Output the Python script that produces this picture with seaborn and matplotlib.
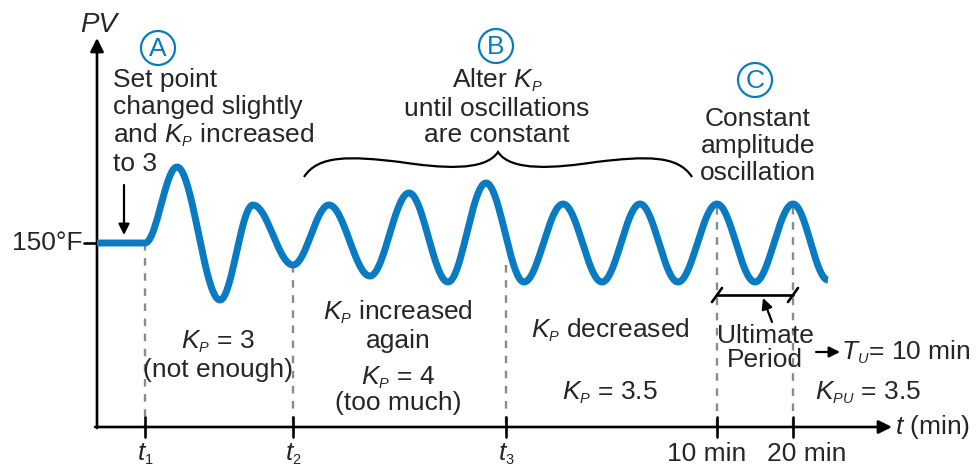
"""Ziegler-Nichols closed-loop tuning sketch: PV response while K_P is stepped."""

import matplotlib

matplotlib.use("Agg")
import matplotlib._mathtext as _mt  # noqa: E402
import matplotlib.pyplot as plt  # noqa: E402
import numpy as np  # noqa: E402
import pandas as pd  # noqa: E402
import seaborn as sns  # noqa: E402
from matplotlib.patches import Circle, PathPatch  # noqa: E402
from matplotlib.path import Path  # noqa: E402

_mt.SHRINK_FACTOR = 0.55  # small subscripts as in the original drawing

BLUE = "#0a7bc1"
GREY = "#8a8a8a"

# PV trace: turning points of the response (time units, PV units; setpoint = 223)
EXT_T = [97, 145, 177, 220, 253, 293, 329, 370, 409, 448, 486, 524, 563, 602,
         640, 678, 717, 755, 793, 828]
EXT_PV = [223, 223, 299, 166, 261, 201, 261, 190, 273, 184, 283, 184, 262, 184,
          262, 184, 262, 184, 262, 186]

SETPOINT = 223
TICK_T = [145, 293, 506, 717, 793]
TICK_LABELS = ["$t_1$", "$t_2$", "$t_3$", "10 min", "20 min"]
LABEL_SHIFT = [0, 0, 0, -10, 14]       # the minute labels sit off-centre
DASH_FROM = [223, 201, 201, 259, 259]   # dashed guide starts on the curve


def wave(ts, vs, n=40):
    """Half-cosine segments between consecutive turning points."""
    xs, ys = [ts[0]], [vs[0]]
    for (t0, v0), (t1, v1) in zip(zip(ts[:-1], vs[:-1]), zip(ts[1:], vs[1:])):
        s = np.linspace(0, 1, n)[1:]
        if v0 == v1:
            xs += list(t0 + (t1 - t0) * s); ys += [v0] * len(s)
        else:
            xs += list(t0 + (t1 - t0) * s)
            ys += list(v0 + (v1 - v0) * (1 - np.cos(np.pi * s)) / 2)
    return pd.DataFrame({"t": xs, "pv": ys})


sns.set_style("white")
plt.rcParams["font.family"] = ["Liberation Sans", "DejaVu Sans"]
plt.rcParams["mathtext.fontset"] = "custom"
plt.rcParams["mathtext.rm"] = "Liberation Sans"
plt.rcParams["mathtext.it"] = "Liberation Sans:italic"

fig = plt.figure(figsize=(9.78, 4.66), dpi=100)
ax = fig.add_axes([0, 0, 1, 1])

FS = 19
LS = 1.15
arrow = dict(arrowstyle="-|>", color="black", shrinkA=0, shrinkB=0)

# axes with arrow heads
ax.annotate("", xy=(892, 39), xytext=(95, 39),
            arrowprops=dict(arrow, lw=1.9, mutation_scale=20))
ax.annotate("", xy=(97, 428), xytext=(97, 38),
            arrowprops=dict(arrow, lw=1.9, mutation_scale=20))
ax.text(99, 441, "PV", fontsize=FS + 1, style="italic", ha="center", va="center")
ax.text(895, 39, "$t$ (min)", fontsize=FS, ha="left", va="center")

# setpoint tick
ax.plot([84, 108], [SETPOINT, SETPOINT], color="black", lw=1.9)
ax.text(83, SETPOINT, "150°F", fontsize=FS, ha="right", va="center")

# dashed guides and x ticks
for t, y0, lab, dx in zip(TICK_T, DASH_FROM, TICK_LABELS, LABEL_SHIFT):
    ax.plot([t, t], [y0, 39], color=GREY, lw=1.7, linestyle=(0, (3.2, 3.2)), zorder=1)
    ax.plot([t, t], [29, 49], color="black", lw=1.9)
    ax.text(t + dx, 24, lab, fontsize=FS, ha="center", va="top")

# response curve
df = wave(EXT_T, EXT_PV)
sns.lineplot(data=df, x="t", y="pv", sort=False, estimator=None, color=BLUE,
             linewidth=5, ax=ax, zorder=3)
ax.lines[-1].set_solid_capstyle("butt")
ax.set_xlim(0, 978); ax.set_ylim(0, 466); ax.axis("off")

# circled step letters
for (cx, cy), letter in zip([(158, 418), (496, 420), (755, 386)], "ABC"):
    ax.add_patch(Circle((cx, cy), 17, fill=False, ec=BLUE, lw=1.6))
    ax.text(cx, cy - 1, letter, color=BLUE, fontsize=FS, ha="center", va="center")

# step A
ax.text(113, 344, "Set point\nchanged slightly\nand $K_P$ increased\nto 3",
        fontsize=FS, ha="left", va="center", linespacing=LS)
ax.annotate("", xy=(124, 231), xytext=(124, 281),
            arrowprops=dict(arrow, lw=1.6, mutation_scale=16))

# step B with brace
ax.text(497, 359, "Alter $K_P$\nuntil oscillations\nare constant",
        fontsize=FS, ha="center", va="center", linespacing=LS)
left = [(304, 177), (318, 155), (350, 156), (400, 162),
        (440, 168), (485, 172), (498, 152)]
right = [(996 - x, y) for x, y in reversed(left)][1:]
verts = [(x, 466 - y) for x, y in left + right]
codes = [Path.MOVETO] + [Path.CURVE4] * (len(verts) - 1)
ax.add_patch(PathPatch(Path(verts, codes), fill=False, lw=1.6, ec="black"))

# step C
ax.text(758, 320, "Constant\namplitude\noscillation",
        fontsize=FS, ha="center", va="center", linespacing=LS)

# region notes
ax.text(218, 111, "$K_P$ = 3\n(not enough)", fontsize=FS, ha="center", va="center",
        linespacing=LS)
ax.text(398, 140, "$K_P$ increased\nagain", fontsize=FS, ha="center", va="center",
        linespacing=LS)
ax.text(398, 76, "$K_P$ = 4\n(too much)", fontsize=FS, ha="center", va="center",
        linespacing=1.0)
ax.text(610, 136, "$K_P$ decreased", fontsize=FS, ha="center", va="center")
ax.text(610, 73, "$K_P$ = 3.5", fontsize=FS, ha="center", va="center")
ax.text(868, 73, "$K_{PU}$ = 3.5", fontsize=FS, ha="center", va="center")

# ultimate period bracket
ax.plot([717, 793], [171, 171], color="black", lw=1.9)
for t in (717, 793):
    ax.plot([t - 5, t + 5], [164, 178], color="black", lw=1.9)
ax.text(765, 118, "Ultimate\nPeriod", fontsize=FS, ha="center", va="center",
        linespacing=1.0)
ax.annotate("", xy=(763, 168), xytext=(772, 144),
            arrowprops=dict(arrow, lw=1.6, mutation_scale=16))
ax.annotate("", xy=(840, 114), xytext=(816, 114),
            arrowprops=dict(arrow, lw=1.6, mutation_scale=16))
ax.text(841, 114, "$T_U$= 10 min", fontsize=FS, ha="left", va="center")

fig.savefig("out.png", dpi=100)
plt.close(fig)
